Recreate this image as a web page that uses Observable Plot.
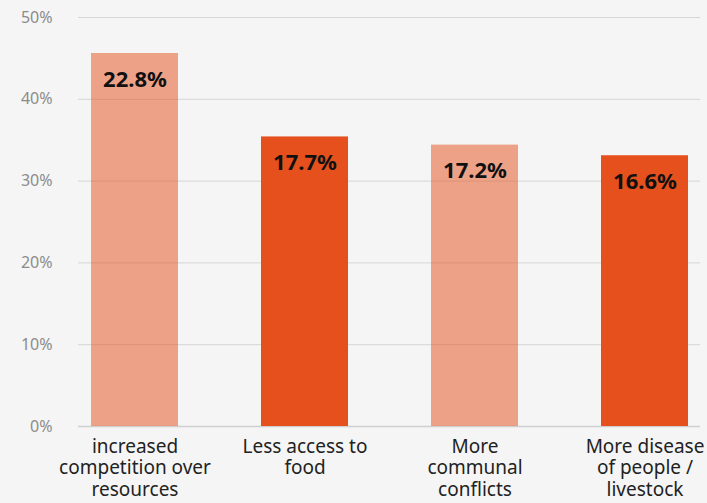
<!DOCTYPE html>
<html>
<head>
<meta charset="utf-8">
<script src="https://cdn.jsdelivr.net/npm/d3@7"></script>
<script src="https://cdn.jsdelivr.net/npm/@observablehq/plot@0.6"></script>
<style>
  html, body { margin: 0; padding: 0; background: #f5f5f5; }
  #chart svg { display: block; }
</style>
</head>
<body>
<div id="chart"></div>
<script>
const categories = [
  "increased\ncompetition over\nresources",
  "Less access to\nfood",
  "More\ncommunal\nconflicts",
  "More disease\nof people /\nlivestock"
];
const barValues = [45.6, 35.4, 34.4, 33.1];
const labelValues = [22.8, 17.7, 17.2, 16.6];
const shade = ["light", "dark", "light", "dark"];
const yTicks = [0, 10, 20, 30, 40, 50];

const data = categories.map((c, i) => ({
  cat: c, value: barValues[i], label: labelValues[i].toFixed(1) + "%", shade: shade[i]
}));

const chart = Plot.plot({
  width: 707,
  height: 503,
  marginLeft: 78,
  marginRight: 7,
  marginTop: 17,
  marginBottom: 77,
  style: { background: "#f5f5f5", fontFamily: "'Noto Sans', sans-serif" },
  x: { domain: categories, paddingInner: 0.49, paddingOuter: 0.065, label: null },
  y: { domain: [0, 50], ticks: yTicks, label: null },
  marks: [
    Plot.gridY(yTicks.filter(d => d > 0), { stroke: "#d6d6d6", strokeOpacity: 1, strokeWidth: 1 }),
    Plot.ruleY([0], { stroke: "#d0d0d0", strokeWidth: 1.5 }),
    Plot.barY(data, {
      x: "cat", y: "value", fill: "#e6501c",
      fillOpacity: d => d.shade === "light" ? 0.5 : 1
    }),
    Plot.text(data, {
      x: "cat", y: "value", text: "label", dy: 26,
      fontSize: 22, fontWeight: "bold", fill: "#111", lineAnchor: "middle"
    }),
    Plot.axisY({
      ticks: yTicks, tickSize: 0, tickPadding: 26, tickFormat: d => d + "%",
      fontSize: 16, color: "#8c8c8c", label: null
    }),
    Plot.axisX({
      tickSize: 0, tickPadding: 11, fontSize: 19, color: "#222", label: null,
      lineHeight: 1.13
    })
  ]
});
document.getElementById("chart").appendChild(chart);
</script>
</body>
</html>
